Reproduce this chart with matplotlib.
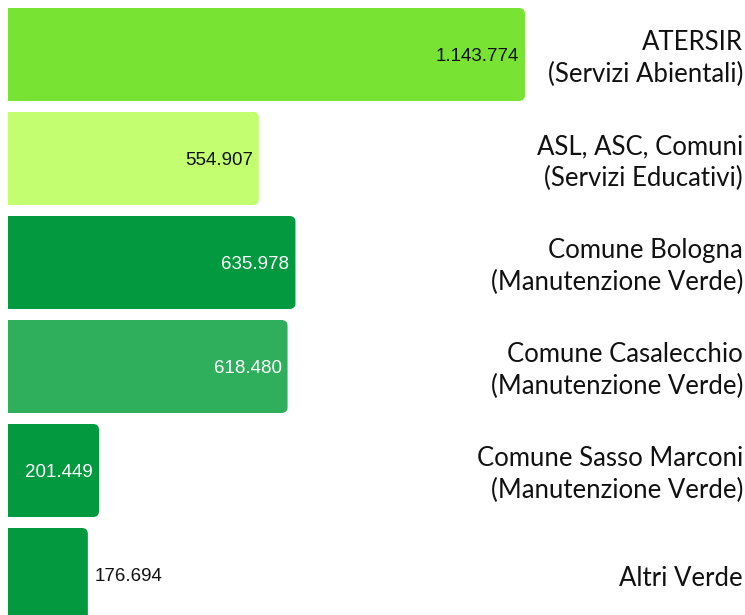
import matplotlib
matplotlib.use("Agg")
import matplotlib.pyplot as plt
from matplotlib.patches import FancyBboxPatch

categories = ["ATERSIR\n(Servizi Abientali)", "ASL, ASC, Comuni\n(Servizi Educativi)",
              "Comune Bologna\n(Manutenzione Verde)", "Comune Casalecchio\n(Manutenzione Verde)",
              "Comune Sasso Marconi\n(Manutenzione Verde)", "Altri Verde"]
values = [1143774, 554907, 635978, 618480, 201449, 176694]
value_labels = ["1.143.774", "554.907", "635.978", "618.480", "201.449", "176.694"]
colors = ["#79e334", "#c2fe70", "#03993f", "#2fae5c", "#03993f", "#03993f"]
text_colors = ["#111111", "#111111", "white", "white", "white", "#111111"]

W, H = 745, 615
fig = plt.figure(figsize=(W / 100, H / 100), dpi=100)
ax = fig.add_axes([0, 0, 1, 1])
ax.set_axis_off()

px = (525 - 8) / values[0]          # pixels per unit
x0 = -8 / px
ax.set_xlim(x0, x0 + W / px)
pitch = 104.0
ax.set_ylim((H - 54.5) / pitch, -54.5 / pitch)

bh = 93 / pitch
r_x = 6 / px
r_y = 6 / pitch
for i, (v, c) in enumerate(zip(values, colors)):
    ax.barh(i, v - r_x * 1.5, height=bh, left=0, color=c, linewidth=0)
    p = FancyBboxPatch((0, i - bh / 2), v, bh,
                       boxstyle=f"round,pad=0,rounding_size={r_x}",
                       mutation_aspect=r_y / r_x, facecolor=c, edgecolor="none")
    ax.add_patch(p)
    ty = i + 2 / pitch
    if i == len(values) - 1:
        ax.text(v + 7 / px, ty, value_labels[i], ha="left", va="center",
                fontsize=13.5, family="Liberation Sans", color=text_colors[i])
    else:
        ax.text(v - 6 / px, ty, value_labels[i], ha="right", va="center",
                fontsize=13.5, family="Liberation Sans", color=text_colors[i])
    ax.text(x0 + 743 / px, i + 4 / pitch, categories[i], ha="right", va="center",
            fontsize=18.5, family="Lato", color="#111111", linespacing=1.3)

fig.savefig("out.png", dpi=100)
